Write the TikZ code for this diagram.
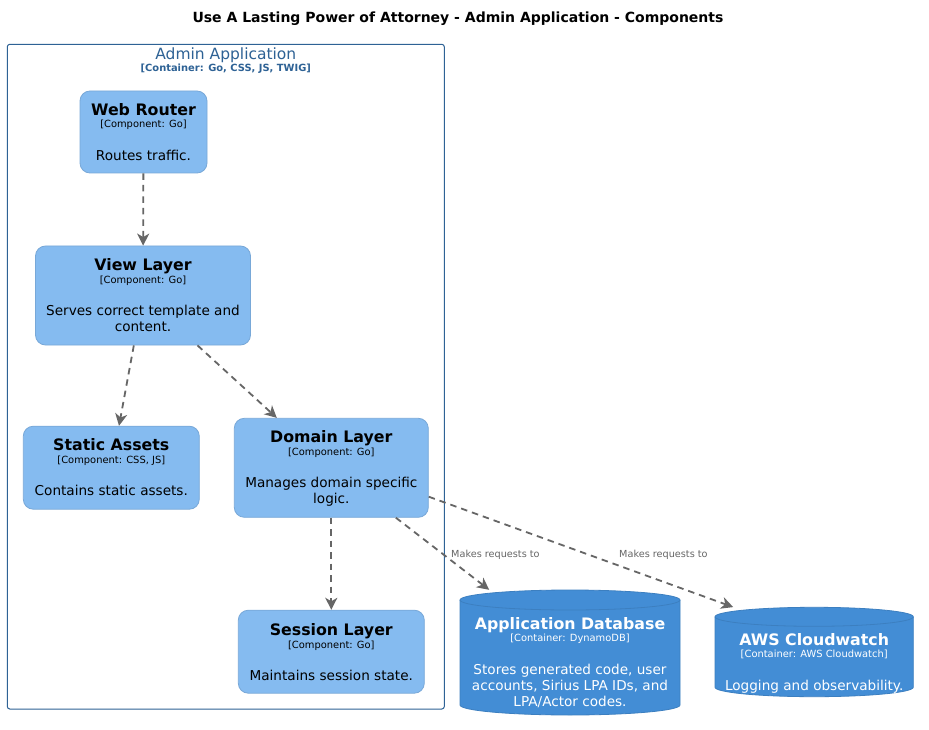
\documentclass[tikz,border=0pt]{standalone}
\usepackage{fontspec}
\setmainfont{DejaVu Sans}
\usetikzlibrary{arrows.meta,calc}
\definecolor{compfill}{HTML}{85BBF0}
\definecolor{compdraw}{HTML}{78A8D8}
\definecolor{dbfill}{HTML}{438DD5}
\definecolor{dbdraw}{HTML}{3C7FC0}
\definecolor{bnd}{HTML}{2E6295}
\definecolor{relcol}{HTML}{666666}
\tikzset{
 comp/.style={draw=compdraw, fill=compfill, rounded corners=10pt, line width=0.8pt, inner sep=0pt},
 dbshape/.style={draw=dbdraw, fill=dbfill, line width=0.8pt},
 area/.style={draw=none, inner sep=0pt},
 nm/.style={anchor=base, inner sep=0pt, font=\fontsize{15.8}{18}\selectfont\bfseries},
 tc/.style={anchor=base, inner sep=0pt, font=\fontsize{9.9}{12}\selectfont},
 ds/.style={anchor=base, inner sep=0pt, font=\fontsize{13.6}{16}\selectfont},
 relarrow/.style={draw=relcol, line width=1.8pt, dash pattern=on 6.5pt off 5pt, -{Stealth[length=12pt,width=12pt,inset=3.5pt]}},
 rellabel/.style={anchor=base west, inner sep=0pt, text=relcol, font=\fontsize{9.7}{12}\selectfont},
}
\begin{document}
\begin{tikzpicture}[x=1pt,y=-1pt]
\fill[white] (0,0) rectangle (929,730);
\useasboundingbox (0,0) rectangle (929,730);

% title
\node[anchor=base, inner sep=0pt, font=\fontsize{14}{16}\selectfont\bfseries] (title) at (458,22.7) {Use A Lasting Power of Attorney - Admin Application - Components};

% container boundary
\node[draw=bnd, line width=1pt, rounded corners=2.5pt, minimum width=437pt, minimum height=664.7pt, inner sep=0pt] (adminapp) at (225.8,376.65) {};
\node[anchor=base, inner sep=0pt, text=bnd, font=\fontsize{15.5}{18}\selectfont] (adminappn) at (225.8,59.3) {Admin Application};
\node[anchor=base, inner sep=0pt, text=bnd, font=\fontsize{9.9}{12}\selectfont\bfseries] (adminappt) at (225.8,71.7) {[Container: Go, CSS, JS, TWIG]};

% components
\node[comp, minimum width=127pt, minimum height=82pt] (web) at (143.5,132) {};
\node[nm] (webn) at (143.5,115.5) {Web Router};
\node[tc] (webt) at (143.5,128) {[Component: Go]};
\node[ds] (webd) at (143.5,160.3) {Routes traffic.};

\node[comp, minimum width=215pt, minimum height=99pt] (view) at (143,295.5) {};
\node[nm] (viewn) at (143,270.5) {View Layer};
\node[tc] (viewt) at (143,283) {[Component: Go]};
\node[ds] (viewd1) at (143,315.5) {Serves correct template and};
\node[ds] (viewd2) at (143,331.5) {content.};

\node[comp, minimum width=176pt, minimum height=83pt] (static) at (111.3,467.7) {};
\node[nm] (staticn) at (111.3,450.5) {Static Assets};
\node[tc] (statict) at (111.3,463) {[Component: CSS, JS]};
\node[ds] (staticd) at (111.3,495.5) {Contains static assets.};

\node[comp, minimum width=194pt, minimum height=99pt] (domain) at (331.3,467.8) {};
\node[nm] (domainn) at (331.3,442.8) {Domain Layer};
\node[tc] (domaint) at (331.3,455.3) {[Component: Go]};
\node[ds] (domaind1) at (331.3,487.7) {Manages domain specific};
\node[ds] (domaind2) at (331.3,503.5) {logic.};

\node[comp, minimum width=186pt, minimum height=83pt] (session) at (331.3,651.7) {};
\node[nm] (sessionn) at (331.3,635.5) {Session Layer};
\node[tc] (sessiont) at (331.3,648) {[Component: Go]};
\node[ds] (sessiond) at (331.3,680.3) {Maintains session state.};

% application database (cylinder)
\node[area, minimum width=220pt, minimum height=125pt] (db) at (570,652.5) {};
\draw[dbshape] (460,600) -- (460,705) arc[start angle=180, end angle=0, x radius=110, y radius=10]
  -- (680,600) arc[start angle=0, end angle=-180, x radius=110, y radius=10] -- cycle;
\draw[draw=dbdraw, line width=0.8pt] (460,600) arc[start angle=180, end angle=0, x radius=110, y radius=10];
\node[nm, text=white] (dbn) at (570,629) {Application Database};
\node[tc, text=white] (dbt) at (570,641.7) {[Container: DynamoDB]};
\node[ds, text=white] (dbd1) at (570,674) {Stores generated code, user};
\node[ds, text=white] (dbd2) at (570,690) {accounts, Sirius LPA IDs, and};
\node[ds, text=white] (dbd3) at (570,706) {LPA/Actor codes.};

% AWS Cloudwatch (cylinder)
\node[area, minimum width=198.3pt, minimum height=89.4pt] (cw) at (814.2,652) {};
\draw[dbshape] (715,616.8) -- (715,687.2) arc[start angle=180, end angle=0, x radius=99.15, y radius=9.5]
  -- (913.3,616.8) arc[start angle=0, end angle=-180, x radius=99.15, y radius=9.5] -- cycle;
\draw[draw=dbdraw, line width=0.8pt] (715,616.8) arc[start angle=180, end angle=0, x radius=99.15, y radius=9.5];
\node[nm, text=white] (cwn) at (814.2,645) {AWS Cloudwatch};
\node[tc, text=white] (cwt) at (814.2,657.7) {[Container: AWS Cloudwatch]};
\node[ds, text=white] (cwd) at (814.2,690) {Logging and observability.};

% relations
\draw[relarrow] (web) -- (view);
\draw[relarrow] (view) -- (static);
\draw[relarrow] (view) -- (domain);
\draw[relarrow] (domain) -- (session);
\draw[relarrow] (domain) -- (db);
\draw[relarrow] ($(domain.south east)+(0,-21)$) -- ($(cw.north)+(-81,0)$);
\node[rellabel] (l1) at (451,557) {Makes requests to};
\node[rellabel] (l2) at (619,557) {Makes requests to};
\end{tikzpicture}
\end{document}
